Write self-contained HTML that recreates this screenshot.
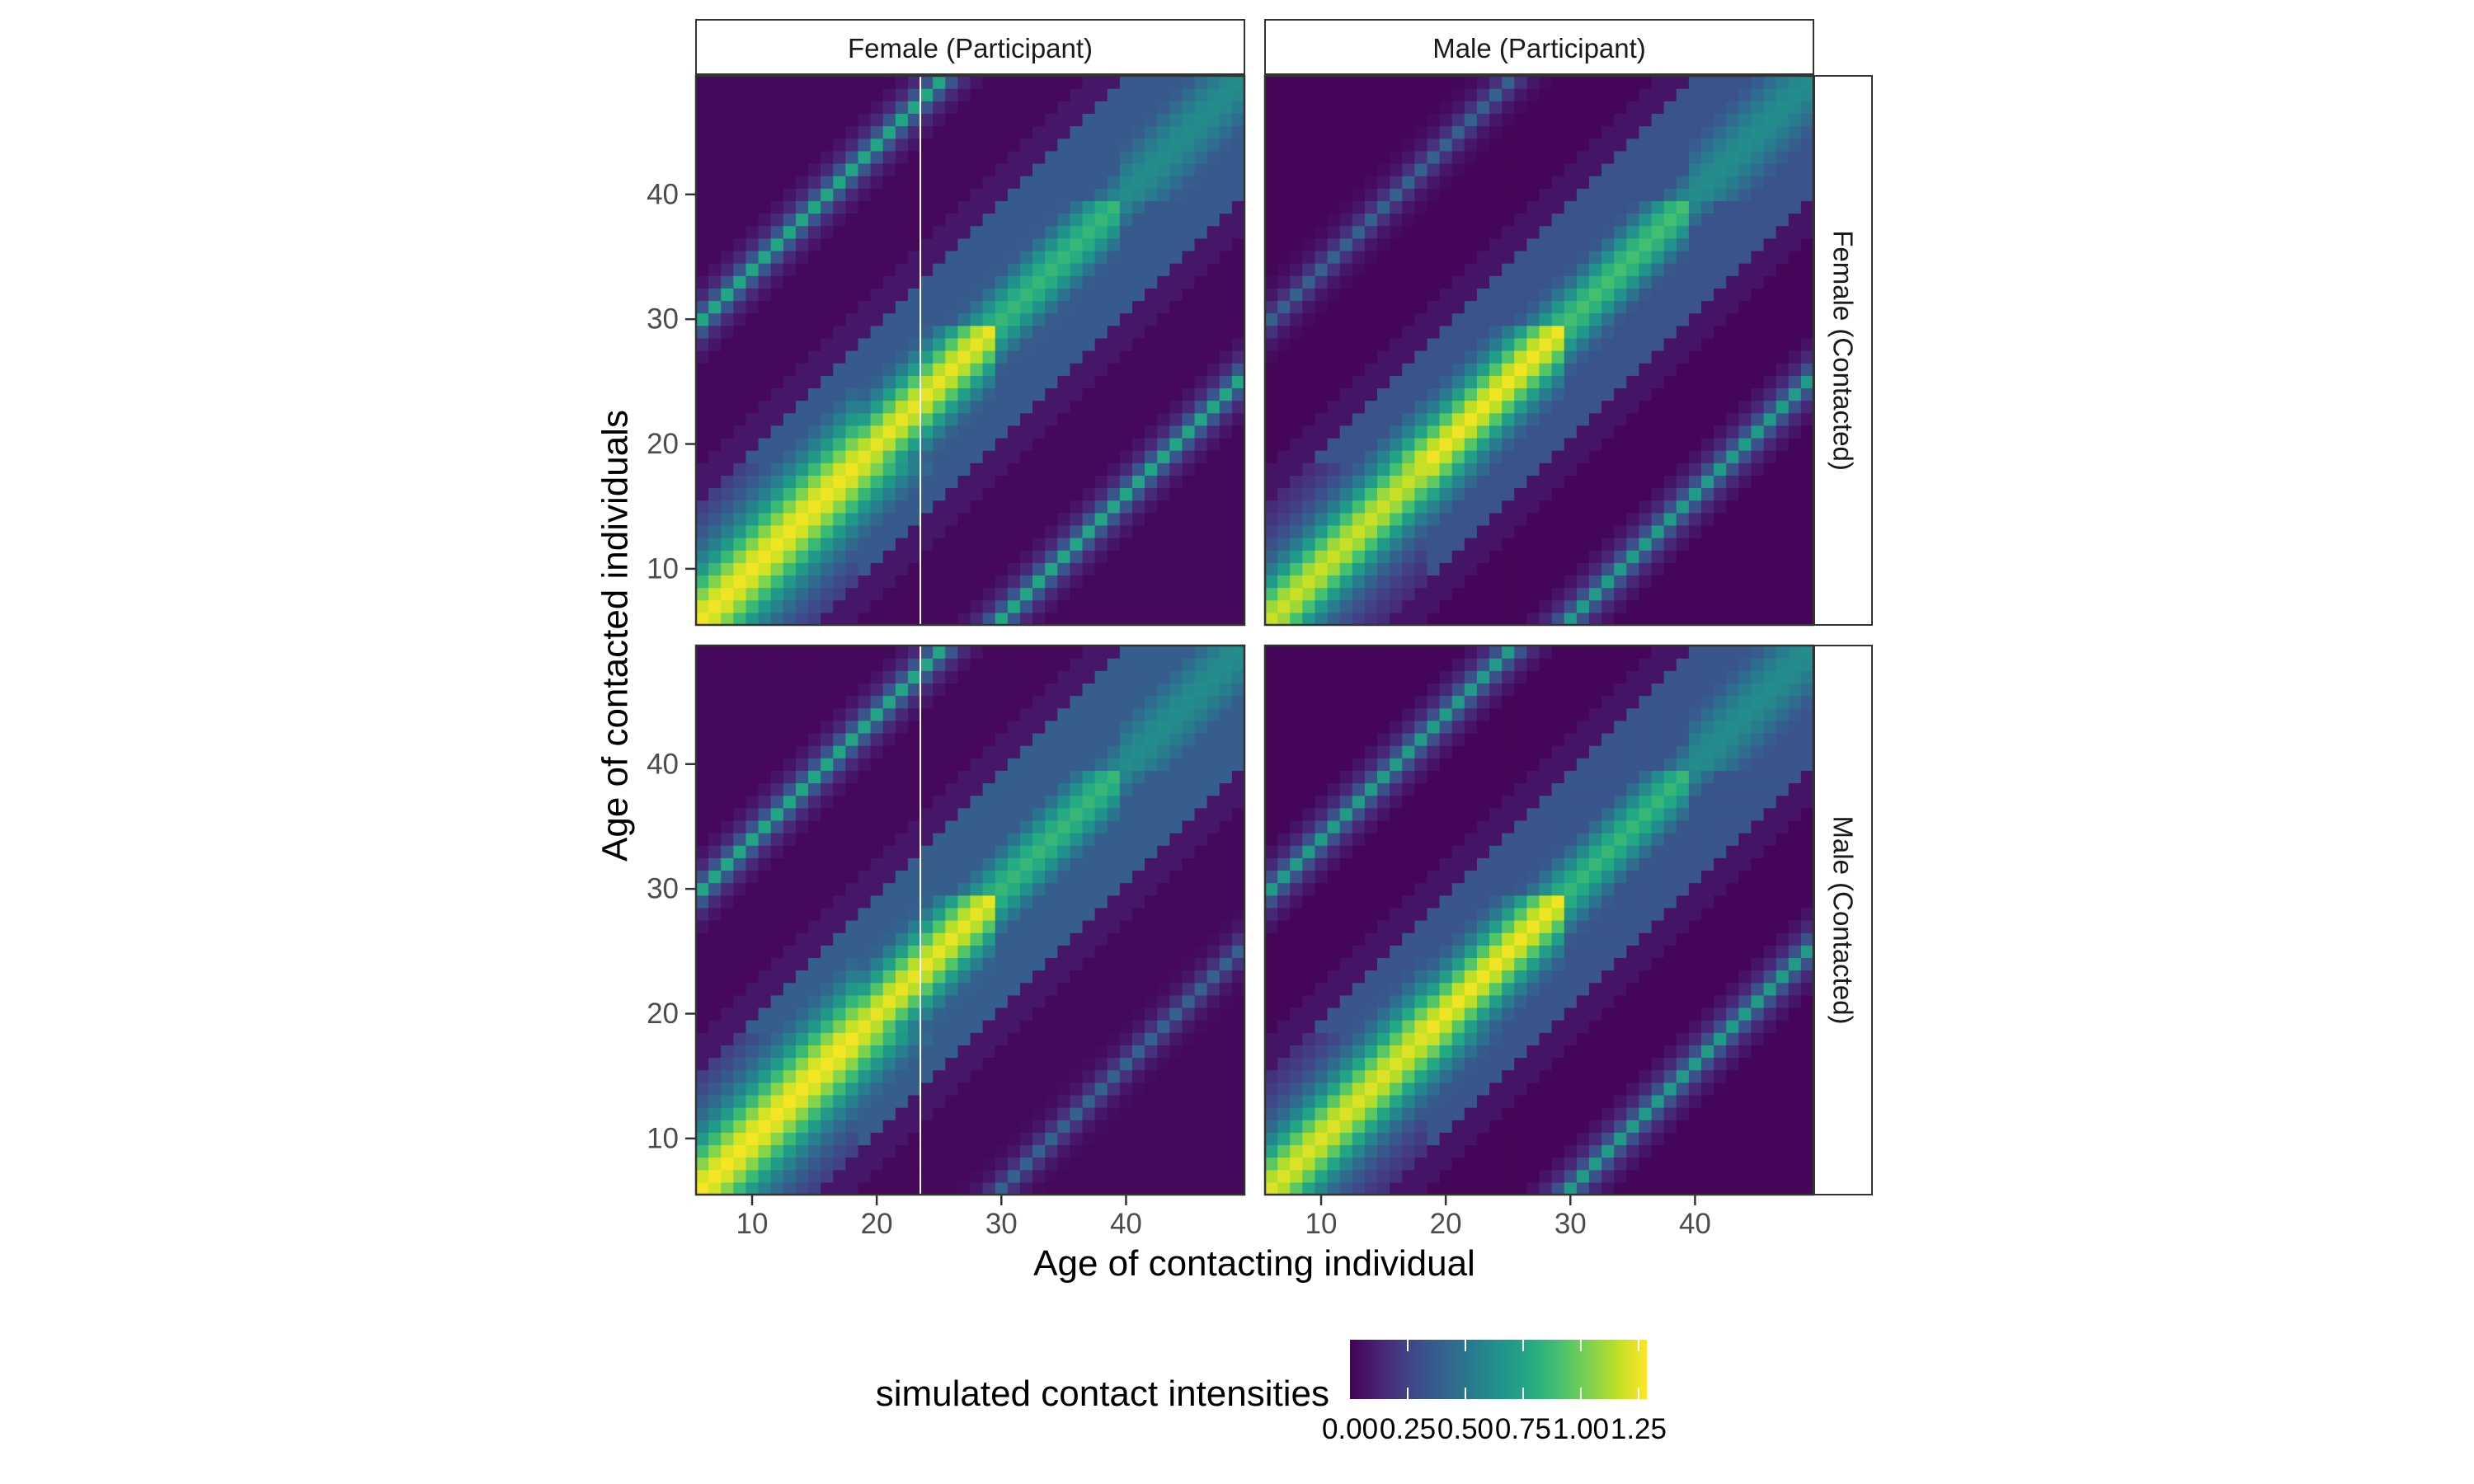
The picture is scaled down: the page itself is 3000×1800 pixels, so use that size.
<!DOCTYPE html>
<html><head><meta charset="utf-8"><style>
html,body{margin:0;padding:0;background:#fff;}
svg{display:block;font-family:"Liberation Sans",sans-serif;}
</style></head><body>
<svg id="chart" width="3000" height="1800" viewBox="0 0 3000 1800" xmlns="http://www.w3.org/2000/svg">
<rect width="3000" height="1800" fill="#fff"/>
<g id="cells"></g>
<g id="frames"></g>
<g id="axes"></g>
<g id="legend"></g>
</svg>
<script>
// ---- data ----
const ages = [];
for (let a = 6; a <= 49; a++) ages.push(a);
const groupBreaks = [18.5, 29.5, 39.5];
const panelNames = ["female-female", "male-female", "female-male", "male-male"];
const diagAmp = [[1.26,1.24,0.85,0.62],[1.18,1.26,0.9,0.62],[1.27,1.24,0.85,0.62],[1.22,1.26,0.85,0.62]];
const diagWidth = [[4.4,3.5,3.5,5],[3.6,3.4,3.2,5],[4.4,3.5,3.5,5],[3.8,3.4,3.2,5]];
const plateauLevel = [0.36,0.33,0.38,0.34];
const plateauWidth = [9,9,9,9];
const haloLevel = [0.08,0.07,0.08,0.07];
const lineUpper = [0.75,0.4,0.75,0.7];
const lineLower = [0.75,0.7,0.4,0.7];
const lineOffset = [24];
const background = [0.025,0.02,0.025,0.02];
const colTitles = ["Female (Participant)","Male (Participant)"];
const rowTitles = ["Female (Contacted)","Male (Contacted)"];
const xTicks = [10,20,30,40];
const yTicks = [10,20,30,40];
const legendTicks = [0,0.25,0.5,0.75,1.0,1.25];
const legendLabels = ["0.00","0.25","0.50","0.75","1.00","1.25"];
const legendMax = 1.286;

// ---- layout ----
const colX = [844,1534], rowY = [92,783], PW = 665, PH = 666;
const aMin = 5.5, aMax = 49.5;
const sx = (a, c) => colX[c] + (a - aMin) / (aMax - aMin) * PW;
const sy = (a, r) => rowY[r] + PH - (a - aMin) / (aMax - aMin) * PH;
const stops = ["#440154","#482475","#414487","#355f8d","#2a788e","#21918c","#22a884","#44bf70","#7ad151","#bddf26","#fde725"];
function hex(h){return [1,3,5].map(i=>parseInt(h.substr(i,2),16));}
function viridis(t){t=Math.max(0,Math.min(1,t));const p=t*10,i=Math.min(9,Math.floor(p)),f=p-i;const a=hex(stops[i]),b=hex(stops[i+1]);return "rgb("+a.map((v,k)=>Math.round(v+(b[k]-v)*f)).join(",")+")";}
const grp = a => groupBreaks.filter(b => a > b).length;
const NS = "http://www.w3.org/2000/svg";
function mk(tag, attrs, parent){const e=document.createElementNS(NS,tag);for(const k in attrs)e.setAttribute(k,attrs[k]);parent.appendChild(e);return e;}

function value(p, x, y){
  const gx = grp(x), gy = grp(y), d = y - x, ad = Math.abs(d);
  let v = background[p];
  const W = plateauWidth[p];
  if (ad <= W + 3) v = Math.max(v, haloLevel[p]);
  if (ad <= W) {
    if (!(gx === 0 && gy === 0)) v = Math.max(v, plateauLevel[p]);
    const A = diagAmp[p][Math.max(gx, gy)];
    const lam = diagWidth[p][Math.min(gx, gy)];
    v = Math.max(v, A / (1 + (d / lam) * (d / lam)));
  }
  const prof = [1, 0.45, 0.2, 0.1];
  const du = Math.abs(d - lineOffset[0]), dl = Math.abs(d + lineOffset[0]);
  if (du <= 3) v = Math.max(v, lineUpper[p] * prof[du]);
  if (dl <= 3) v = Math.max(v, lineLower[p] * prof[dl]);
  return v;
}

const cellsG = document.getElementById("cells");
const cw = PW/ages.length, ch = PH/ages.length;
for (let p = 0; p < 4; p++){
  const c = p % 2, r = Math.floor(p / 2);
  const g = mk("g", {}, cellsG);
  
  
  ages.forEach(x => ages.forEach(y => {
    const rc = mk("rect", {x: sx(x-0.5,c).toFixed(2), y: sy(y+0.5,r).toFixed(2), width: (cw+0.6).toFixed(2), height: (ch+0.6).toFixed(2), fill: viridis(value(p,x,y)/legendMax)}, g);
    
    
  }));
  if (c === 0){
    const wl = mk("line", {x1: sx(23.5,c), x2: sx(23.5,c), y1: rowY[r], y2: rowY[r]+PH, stroke: "#fff", "stroke-width": 2}, g);
    
    
  }
}

const frames = document.getElementById("frames");
for (let r = 0; r < 2; r++) for (let c = 0; c < 2; c++){
  const fr = mk("rect", {x: colX[c], y: rowY[r], width: PW, height: PH, fill: "none", stroke: "#333", "stroke-width": 2.5}, frames);
  
  
}
colTitles.forEach((t, c) => {
  const s = mk("rect", {x: colX[c], y: 24, width: PW, height: 66, fill: "#fff", stroke: "#333", "stroke-width": 2}, frames);
  
  
  const tx = mk("text", {x: colX[c]+PW/2, y: 70, "text-anchor": "middle", "font-size": 33, fill: "#1a1a1a"}, frames);
  tx.textContent = t;
  
  
});
rowTitles.forEach((t, r) => {
  const s = mk("rect", {x: 2200, y: rowY[r], width: 70, height: PH, fill: "#fff", stroke: "#333", "stroke-width": 2}, frames);
  
  
  const cx = 2235, cy = rowY[r] + PH/2;
  const tx = mk("text", {x: cx, y: cy, "text-anchor": "middle", "dominant-baseline": "central", "font-size": 33, fill: "#1a1a1a", transform: "rotate(90 "+cx+" "+cy+")"}, frames);
  tx.textContent = t;
  
  
});

const axes = document.getElementById("axes");
for (let r = 0; r < 2; r++) yTicks.forEach(t => {
  const yy = sy(t, r);
  const tk = mk("line", {x1: 831, x2: 844, y1: yy, y2: yy, stroke: "#333", "stroke-width": 2.5}, axes);
  
  
  const lb = mk("text", {x: 823, y: yy, "text-anchor": "end", "dominant-baseline": "central", "font-size": 35, fill: "#4d4d4d"}, axes);
  lb.textContent = t;
  
  
});
for (let c = 0; c < 2; c++) xTicks.forEach(t => {
  const xx = sx(t, c);
  const tk = mk("line", {x1: xx, x2: xx, y1: 1449, y2: 1462, stroke: "#333", "stroke-width": 2.5}, axes);
  
  
  const lb = mk("text", {x: xx, y: 1496, "text-anchor": "middle", "font-size": 35, fill: "#4d4d4d"}, axes);
  lb.textContent = t;
  
  
});
const xt = mk("text", {x: 1521, y: 1547, "text-anchor": "middle", "font-size": 44, fill: "#000"}, axes);
xt.textContent = "Age of contacting individual";


const yt = mk("text", {x: 746, y: 771, "text-anchor": "middle", "dominant-baseline": "central", "font-size": 44, fill: "#000", transform: "rotate(-90 746 771)"}, axes);
yt.textContent = "Age of contacted individuals";



// legend
const lg = document.getElementById("legend");
const defs = mk("defs", {}, lg);
const grad = mk("linearGradient", {id: "vir", x1: 0, x2: 1, y1: 0, y2: 0}, defs);
stops.forEach((s, i) => mk("stop", {offset: i/10, "stop-color": s}, grad));
const LX = 1637, LW = 360, LY = 1625, LH = 72;
const bar = mk("rect", {x: LX, y: LY, width: LW, height: LH, fill: "url(#vir)"}, lg);


legendTicks.forEach((t, i) => {
  const xx = LX + t / legendMax * LW;
  if (t > 0){
    const a = mk("line", {x1: xx, x2: xx, y1: LY, y2: LY+14, stroke: "#fff", "stroke-width": 2}, lg);
    
    
    const b = mk("line", {x1: xx, x2: xx, y1: LY+LH-14, y2: LY+LH, stroke: "#fff", "stroke-width": 2}, lg);
    
    
  }
  const lb = mk("text", {x: xx, y: 1745, "text-anchor": "middle", "font-size": 35, fill: "#000"}, lg);
  lb.textContent = legendLabels[i];
  
  
});
const lt = mk("text", {x: 1612, y: 1705, "text-anchor": "end", "font-size": 44, fill: "#000"}, lg);
lt.textContent = "simulated contact intensities";


</script>
</body></html>
